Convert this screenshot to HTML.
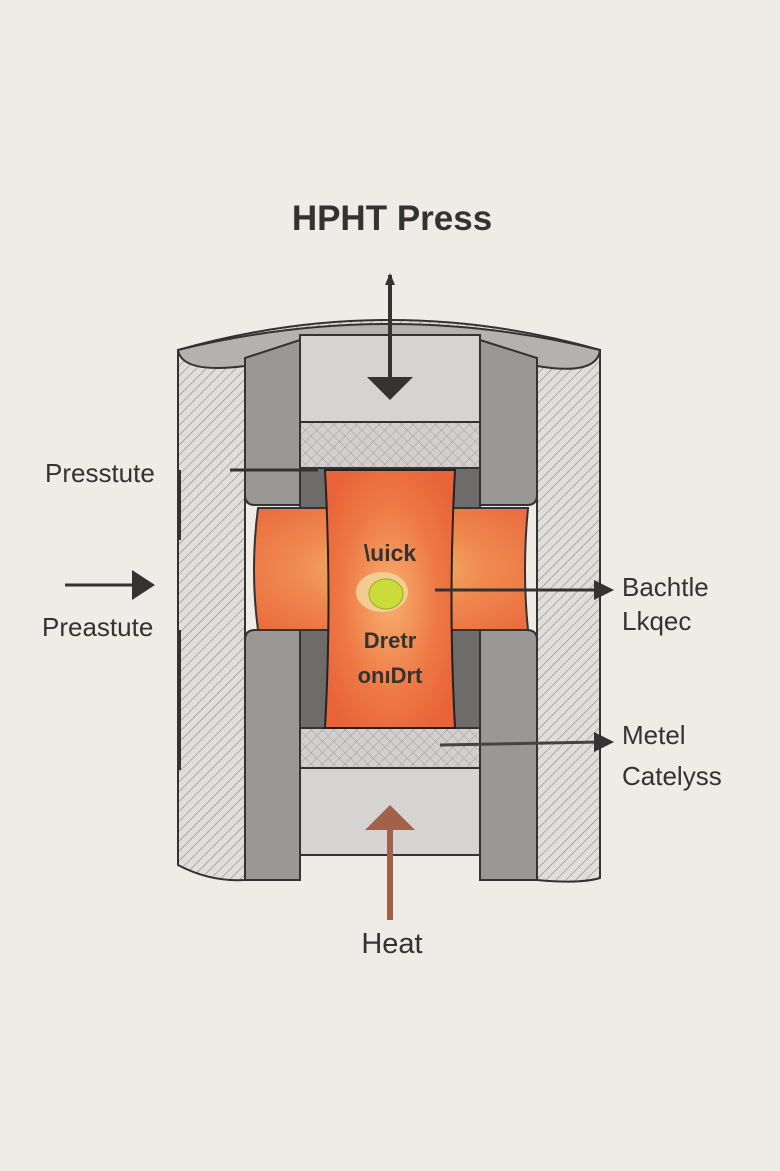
<!DOCTYPE html>
<html><head><meta charset="utf-8"><style>
html,body{margin:0;padding:0;background:#efebe6;}
svg{display:block}
text{font-family:"Liberation Sans",sans-serif;fill:#333;}
</style></head><body>
<svg width="780" height="1171" viewBox="0 0 780 1171" xmlns="http://www.w3.org/2000/svg">
<defs>
<pattern id="hatch" width="7" height="7" patternUnits="userSpaceOnUse" patternTransform="rotate(45)">
<rect width="7" height="7" fill="#e0deda"/><line x1="0" y1="0" x2="0" y2="7" stroke="#8f8d8b" stroke-width="1.3"/>
</pattern>
<pattern id="xh" width="8" height="8" patternUnits="userSpaceOnUse" patternTransform="rotate(45)">
<rect width="8" height="8" fill="#d2d0ce"/><line x1="0" y1="0" x2="0" y2="8" stroke="#a09e9c" stroke-width="1"/><line x1="0" y1="0" x2="8" y2="0" stroke="#a09e9c" stroke-width="1"/>
</pattern>
<radialGradient id="hot" cx="50%" cy="50%" r="60%">
<stop offset="0" stop-color="#f8b070"/><stop offset="0.6" stop-color="#ee7a45"/><stop offset="1" stop-color="#e8633a"/>
</radialGradient>
<radialGradient id="hot2" cx="50%" cy="50%" r="70%">
<stop offset="0" stop-color="#f3c478"/><stop offset="0.5" stop-color="#ef8a4f"/><stop offset="1" stop-color="#ea6a3e"/>
</radialGradient>
</defs>
<text x="392" y="230" font-size="35" font-weight="bold" text-anchor="middle" fill="#3a3d44">HPHT Press</text>
<!-- outer body -->
<path d="M178 350 Q390 290 600 350 L600 878 Q580 884 537 880 L537 350 Z" fill="url(#hatch)" stroke="#333" stroke-width="2"/>
<path d="M178 350 L178 865 Q210 882 245 880 L245 350 Z" fill="url(#hatch)" stroke="#333" stroke-width="2"/>
<path d="M178 350 Q390 298 600 350 Q597 376 537 366 Q390 326 245 366 Q182 374 178 350 Z" fill="#b4b2b0" stroke="#333" stroke-width="2"/>
<!-- dark columns -->
<path d="M245 358 L300 340 L300 505 L255 505 Q245 505 245 495 Z" fill="#9a9896" stroke="#333" stroke-width="2"/>
<path d="M480 340 L537 358 L537 495 Q537 505 527 505 L480 505 Z" fill="#9a9896" stroke="#333" stroke-width="2"/>
<path d="M255 630 L300 630 L300 880 L245 880 L245 640 Q245 630 255 630 Z" fill="#9a9896" stroke="#333" stroke-width="2"/>
<path d="M480 630 L527 630 Q537 630 537 640 L537 880 L480 880 Z" fill="#9a9896" stroke="#333" stroke-width="2"/>
<!-- pistons -->
<rect x="300" y="335" width="180" height="87" fill="#d6d4d2" stroke="#333" stroke-width="2"/>
<rect x="300" y="422" width="180" height="46" fill="url(#xh)" stroke="#333" stroke-width="2"/>
<rect x="300" y="468" width="180" height="40" fill="#6e6c6b" stroke="#333" stroke-width="2"/>
<rect x="300" y="630" width="180" height="98" fill="#6e6c6b" stroke="#333" stroke-width="2"/>
<rect x="300" y="728" width="180" height="40" fill="url(#xh)" stroke="#333" stroke-width="2"/>
<rect x="300" y="768" width="180" height="87" fill="#d6d4d2" stroke="#333" stroke-width="2"/>
<!-- side orange -->
<path d="M258 508 L528 508 Q522 570 528 630 L258 630 Q250 570 258 508 Z" fill="url(#hot2)" stroke="#333" stroke-width="2"/>
<!-- center capsule -->
<path d="M325 470 L455 470 Q448 600 455 728 L325 728 Q332 600 325 470 Z" fill="url(#hot)" stroke="#222" stroke-width="2"/>
<ellipse cx="382" cy="592" rx="26" ry="20" fill="#f2d9a0" opacity="0.8"/>
<ellipse cx="386" cy="594" rx="17" ry="15" fill="#c9dc3a" stroke="#9aa820" stroke-width="1"/>
<text x="390" y="561" font-size="23" font-weight="bold" text-anchor="middle" fill="#2a2220">\uick</text>
<text x="390" y="648" font-size="22" font-weight="bold" text-anchor="middle" fill="#2a2220">Dretr</text>
<text x="390" y="683" font-size="22" font-weight="bold" text-anchor="middle" fill="#2a2220">onıDrt</text>
<!-- arrows -->
<line x1="390" y1="275" x2="390" y2="380" stroke="#333" stroke-width="4"/>
<polygon points="367,377 413,377 390,400" fill="#333"/>
<polygon points="390,273 385,285 395,285" fill="#333"/>
<line x1="390" y1="920" x2="390" y2="820" stroke="#a2614b" stroke-width="6"/>
<polygon points="365,830 415,830 390,805" fill="#a2614b"/>
<line x1="230" y1="470" x2="318" y2="470" stroke="#333" stroke-width="3"/>
<line x1="65" y1="585" x2="140" y2="585" stroke="#333" stroke-width="3"/>
<polygon points="132,570 155,585 132,600" fill="#333"/>
<line x1="435" y1="590" x2="600" y2="590" stroke="#333" stroke-width="3"/>
<polygon points="594,580 614,590 594,600" fill="#333"/>
<line x1="440" y1="745" x2="600" y2="742" stroke="#444" stroke-width="3"/>
<polygon points="594,732 614,742 594,752" fill="#333"/>
<!-- left bracket lines -->
<line x1="180" y1="470" x2="180" y2="540" stroke="#333" stroke-width="2"/>
<line x1="180" y1="630" x2="180" y2="770" stroke="#333" stroke-width="2"/>
<!-- labels -->
<text x="45" y="482" font-size="26" fill="#333">Presstute</text>
<text x="42" y="636" font-size="26" fill="#333">Preastute</text>
<text x="622" y="596" font-size="26" fill="#333">Bachtle</text>
<text x="622" y="630" font-size="26" fill="#333">Lkqec</text>
<text x="622" y="744" font-size="26" fill="#333">Metel</text>
<text x="622" y="785" font-size="26" fill="#333">Catelyss</text>
<text x="392" y="953" font-size="29" text-anchor="middle" fill="#3a3d44">Heat</text>
</svg>
</body></html>
